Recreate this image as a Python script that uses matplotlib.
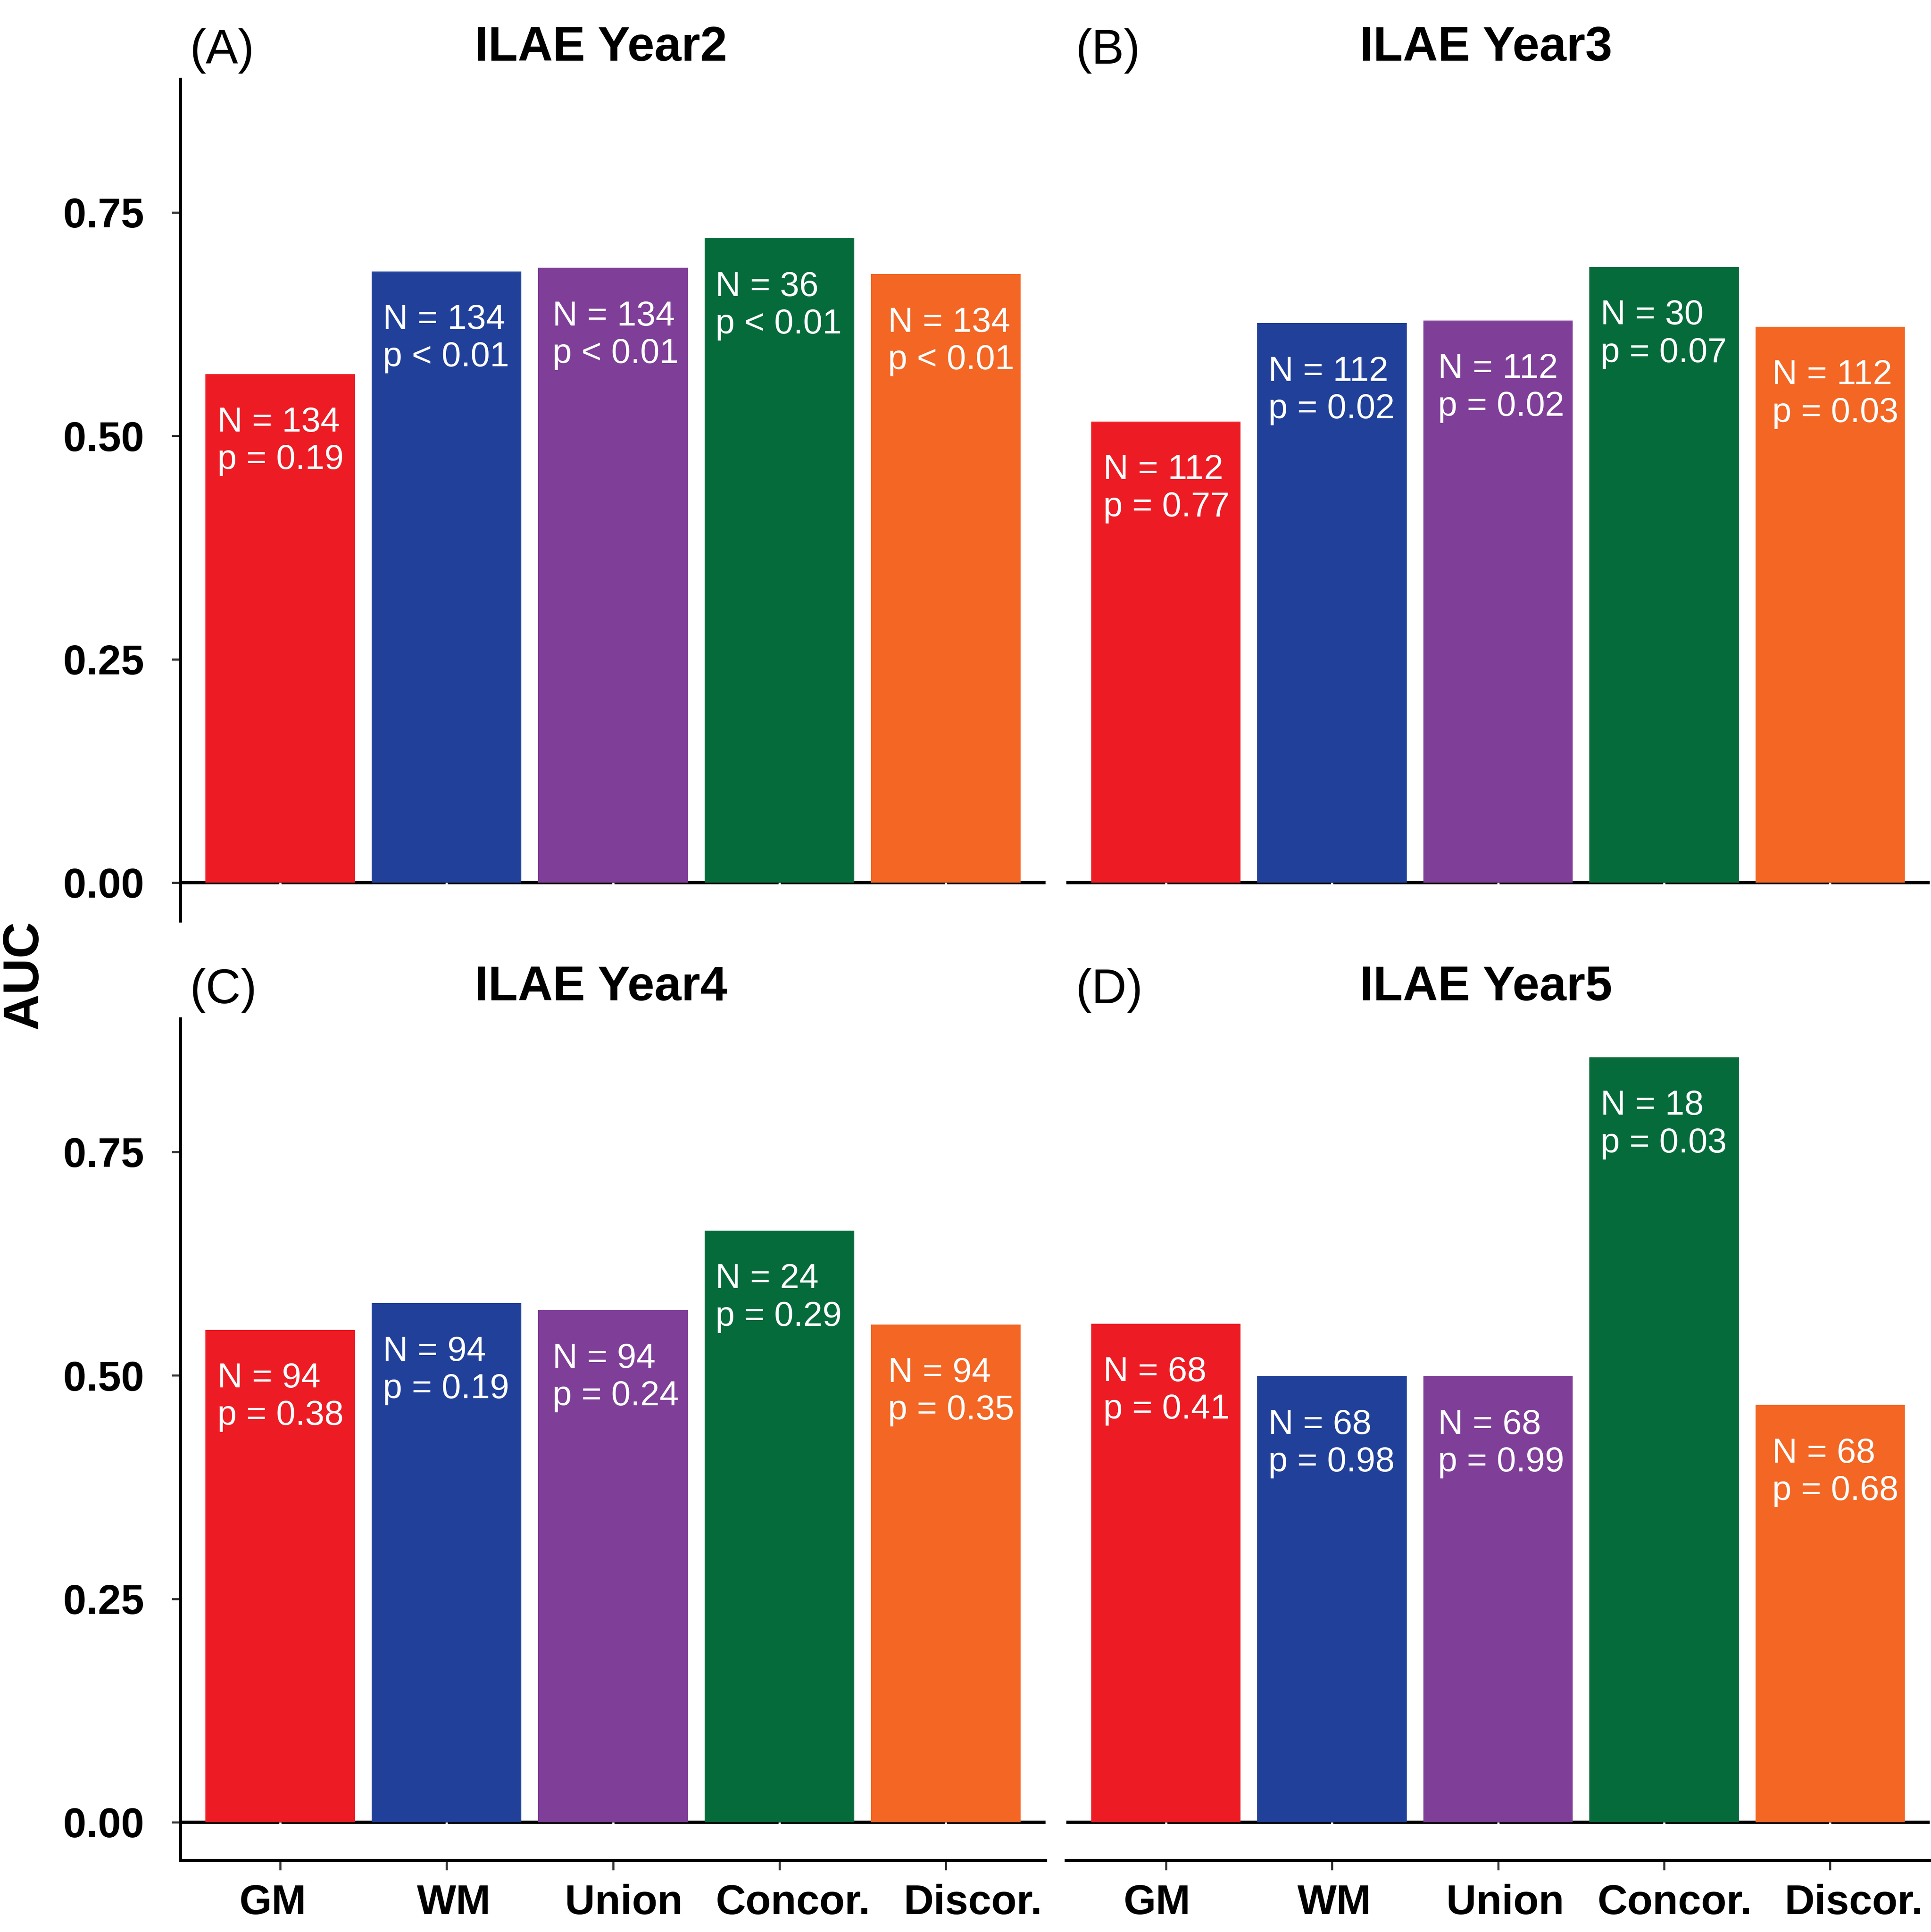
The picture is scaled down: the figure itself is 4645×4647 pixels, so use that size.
import matplotlib
matplotlib.use("Agg")
import matplotlib.pyplot as plt
from matplotlib.transforms import ScaledTranslation
import numpy as np

plt.rcParams['font.family'] = ['Liberation Sans', 'DejaVu Sans']

categories = ['GM', 'WM', 'Union', 'Concor.', 'Discor.']
colors = ['#ED1C24', '#21409A', '#7F3F98', '#066B3B', '#F36624']

titles = ['ILAE Year2', 'ILAE Year3', 'ILAE Year4', 'ILAE Year5']
tags = ['(A)', '(B)', '(C)', '(D)']

auc_y2 = [0.569, 0.684, 0.688, 0.721, 0.681]
auc_y3 = [0.516, 0.626, 0.629, 0.689, 0.622]
auc_y4 = [0.551, 0.581, 0.573, 0.662, 0.557]
auc_y5 = [0.558, 0.499, 0.499, 0.856, 0.467]

n_y2 = [134, 134, 134, 36, 134]
n_y3 = [112, 112, 112, 30, 112]
n_y4 = [94, 94, 94, 24, 94]
n_y5 = [68, 68, 68, 18, 68]

p_y2 = ['p = 0.19', 'p < 0.01', 'p < 0.01', 'p < 0.01', 'p < 0.01']
p_y3 = ['p = 0.77', 'p = 0.02', 'p = 0.02', 'p = 0.07', 'p = 0.03']
p_y4 = ['p = 0.38', 'p = 0.19', 'p = 0.24', 'p = 0.29', 'p = 0.35']
p_y5 = ['p = 0.41', 'p = 0.98', 'p = 0.99', 'p = 0.03', 'p = 0.68']

y_ticks = [0.0, 0.25, 0.50, 0.75]
y_ticklabels = ['0.00', '0.25', '0.50', '0.75']

aucs = [auc_y2, auc_y3, auc_y4, auc_y5]
ns = [n_y2, n_y3, n_y4, n_y5]
ps = [p_y2, p_y3, p_y4, p_y5]

# style: small horizontal nudges (points) of the x tick labels, and of annotations (data units)
xlabel_shift_left = [-4.3, 4.1, 6.2, 7.9, 15.6]
xlabel_shift_right = [-5.0, 1.4, 4.1, 6.2, 13.7]
annot_dx = [0.005, 0.0, 0.02, 0.0, 0.035]

W, H = 4645, 4647
fig = plt.figure(figsize=(W / 300, H / 300), dpi=300)

left_x0, left_x1 = 434 / W, 2515 / W
right_x0, right_x1 = 2565 / W, 4642 / W
top_y0, top_y1 = 1 - 2215 / H, 1 - 191 / H
bot_y0, bot_y1 = 1 - 4475 / H, 1 - 2451 / H

rects = [
    (left_x0, top_y0, left_x1 - left_x0, top_y1 - top_y0),
    (right_x0, top_y0, right_x1 - right_x0, top_y1 - top_y0),
    (left_x0, bot_y0, left_x1 - left_x0, bot_y1 - bot_y0),
    (right_x0, bot_y0, right_x1 - right_x0, bot_y1 - bot_y0),
]

ymax = max(max(a) for a in aucs)
ylim = (-0.05 * ymax, 1.05 * ymax)
x = np.arange(1, len(categories) + 1)
lw = 1.9

for k in range(4):
    ax = fig.add_axes(rects[k])
    ax.set_xlim(0.4, len(categories) + 0.6)
    ax.set_ylim(*ylim)
    ax.axhline(0, color='black', lw=lw, zorder=2)
    ax.vlines(x, -0.0055, 0, color='white', lw=1.3, zorder=3)
    ax.bar(x, aucs[k], width=0.9, color=colors, zorder=4, linewidth=0)
    for i in range(len(categories)):
        ax.text(x[i] - 0.383 + annot_dx[i], aucs[k][i] - 0.036,
                f"N = {ns[k][i]}\n{ps[k][i]}", color='white', fontsize=20,
                ha='left', va='top', linespacing=1.2, zorder=5)
    for s in ['top', 'right']:
        ax.spines[s].set_visible(False)
    left_panel = k in (0, 2)
    bottom_panel = k in (2, 3)
    ax.spines['left'].set_visible(left_panel)
    ax.spines['bottom'].set_visible(bottom_panel)
    ax.spines['left'].set_linewidth(lw)
    ax.spines['bottom'].set_linewidth(lw)
    if left_panel:
        ax.set_yticks(y_ticks)
        ax.set_yticklabels(y_ticklabels, fontsize=24, fontweight='bold')
        ax.tick_params(axis='y', length=5, width=1.2, color='#333333', pad=16)
    else:
        ax.set_yticks([])
    if bottom_panel:
        ax.set_xticks(x)
        ax.set_xticklabels(categories, fontsize=24, fontweight='bold')
        ax.tick_params(axis='x', length=5.5, width=1.2, color='#333333', pad=8)
        shifts = xlabel_shift_left if left_panel else xlabel_shift_right
        for lbl, dx in zip(ax.get_xticklabels(), shifts):
            lbl.set_transform(lbl.get_transform() +
                              ScaledTranslation(dx / 72, 0, fig.dpi_scale_trans))
    else:
        ax.set_xticks([])
    ax.text(0.486, 1.022, titles[k], transform=ax.transAxes, ha='center',
            va='baseline', fontsize=28, fontweight='bold')
    ax.text(0.011, 1.019, tags[k], transform=ax.transAxes, ha='left',
            va='baseline', fontsize=28)

fig.text(0.0125, 0.4956, 'AUC', rotation=90, ha='center', va='center',
         fontsize=29, fontweight='bold')

fig.savefig('out.png', dpi=300, facecolor='white')
